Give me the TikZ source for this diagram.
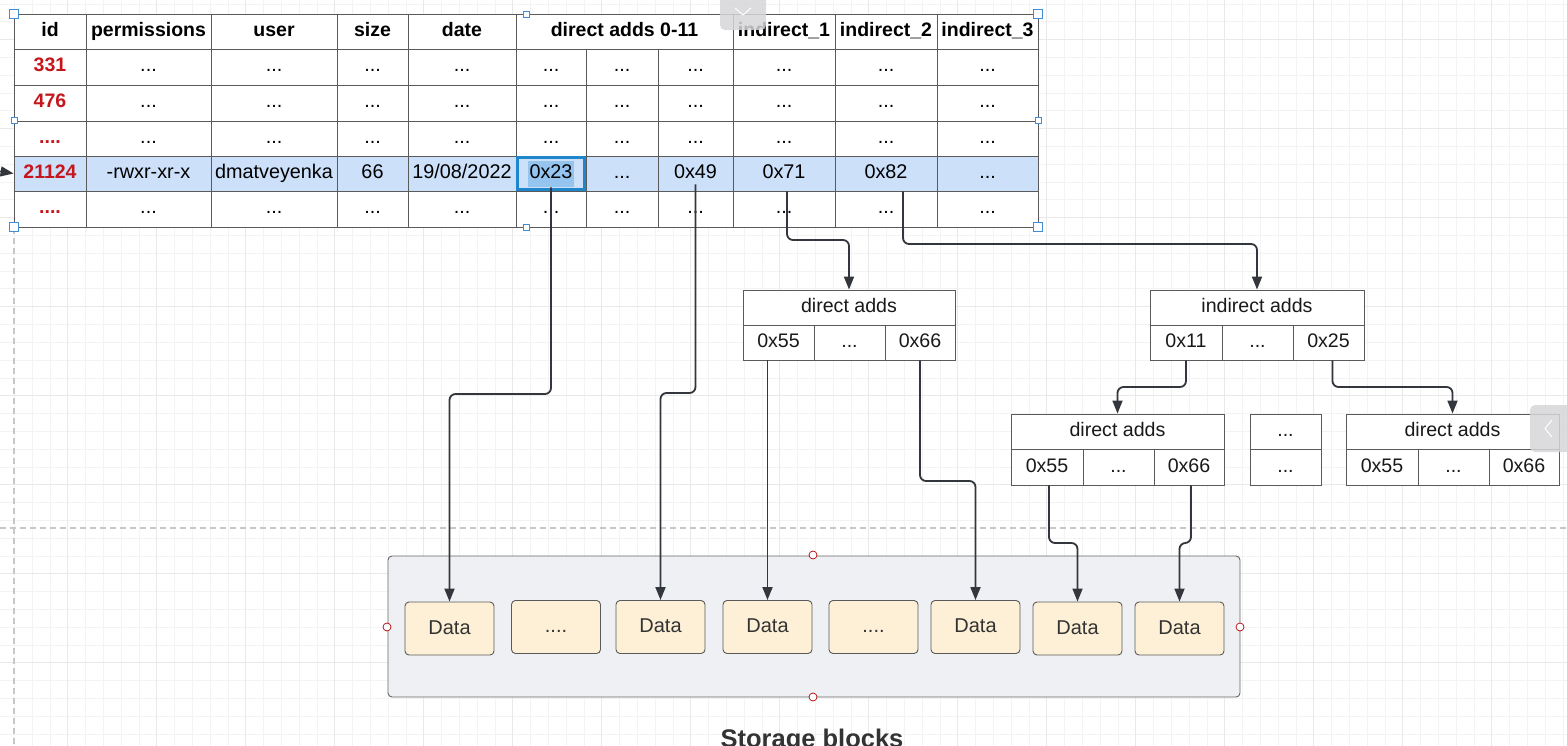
\documentclass[tikz,border=0pt]{standalone}
\usepackage{fontspec}
\setmainfont{Liberation Sans}
\usetikzlibrary{arrows.meta}
\definecolor{gridmin}{HTML}{F3F3F3}
\definecolor{gridmaj}{HTML}{E9E9E9}
\definecolor{cellline}{HTML}{5A5A5A}
\definecolor{rowblue}{HTML}{CCE0FA}
\definecolor{selblue}{HTML}{1F86CC}
\definecolor{txtsel}{HTML}{95C4EE}
\definecolor{idred}{HTML}{C4161C}
\definecolor{connc}{HTML}{33363D}
\definecolor{storfill}{HTML}{EFF0F3}
\definecolor{datafill}{HTML}{FDF0D6}
\definecolor{handleblue}{HTML}{3F8FD8}
\definecolor{tabgray}{HTML}{D6D6DA}
\newcommand{\tdots}{...}
\newcommand{\qdots}{....}
\newcommand{\tcell}[7]{%
  \node[tcellstyle,#6,minimum width={(#4-#2)*1pt},minimum height={(#5-#3)*1pt}] (#1) at ({(#2+#4)/2},{(#3+#5)/2}) {#7};}
\tikzset{
  tcellstyle/.style={draw=cellline,line width=0.9pt,inner sep=0pt,text height=13.5pt,text depth=3.5pt,font=\fontsize{19.8}{21}\selectfont,text=black},
  headcell/.style={font=\bfseries\fontsize{19.5}{21}\selectfont},
  idcell/.style={font=\bfseries\fontsize{19.5}{21}\selectfont,text=idred},
  bluerow/.style={fill=rowblue},
  whiterow/.style={fill=white},
  boxcell/.style={draw=cellline,line width=0.9pt,fill=white,inner sep=0pt,text height=13.5pt,text depth=3.5pt,font=\fontsize{19.6}{21}\selectfont,text=black!90},
  datastyle/.style={draw=cellline,line width=0.9pt,fill=datafill,rounded corners=4pt,inner sep=0pt,text height=14.5pt,text depth=3.5pt,font=\fontsize{20}{22}\selectfont,text=black!80,minimum width=89pt,minimum height=53pt},
  conn/.style={draw=connc,line width=1.8pt,rounded corners=6pt,-{Triangle[length=13pt,width=10pt]}},
  gmin/.style={draw=gridmin,line width=0.8pt},
  gmaj/.style={draw=gridmaj,line width=1.2pt},
  bighandle/.style={draw=handleblue,fill=white,line width=0.9pt,minimum size=9pt,inner sep=0pt},
  smallhandle/.style={draw=handleblue,fill=white,line width=0.7pt,minimum size=6pt,inner sep=0pt},
  redpt/.style={draw=red!70!black,fill=white,line width=0.7pt,circle,minimum size=8pt,inner sep=0pt},
}
\begin{document}
\begin{tikzpicture}[x=1pt,y=-1pt]
\useasboundingbox (0,0) rectangle (1567,746);
\fill[white] (0,0) rectangle (1567,746);
% grid
\foreach \i in {0,...,87} \draw[gmin] ({14.3+17.8*\i},0) -- ({14.3+17.8*\i},746);
\foreach \j in {0,...,41} \draw[gmin] (0,{4.1+17.8*\j}) -- (1567,{4.1+17.8*\j});
\foreach \i in {1,...,18} \draw[gmaj] ({-21.3+89*\i},0) -- ({-21.3+89*\i},746);
\foreach \j in {0,...,7} \draw[gmaj] (0,{39.7+89*\j}) -- (1567,{39.7+89*\j});
% page guides
\draw[draw=black!22,line width=1.2pt,dash pattern=on 6pt off 4pt] (0,528) -- (1567,528);
\draw[draw=black!22,line width=1.2pt,dash pattern=on 6pt off 4pt] (14,228) -- (14,746);

% ---------- table ----------
\foreach \xa/\xb/\t [count=\c] in {14/86/id,86/211/permissions,211/337/user,337/408/size,408/516/date,516/733/direct adds 0-11,733/835/indirect\_1,835/937/indirect\_2,937/1038/indirect\_3}
  {\tcell{t0-\c}{\xa}{14}{\xb}{49}{headcell,whiterow}{\t}}
\foreach \r/\ya/\yb/\idt in {1/49/85/331,2/85/121/476,3/121/156/\qdots,5/191/227/\qdots}{
  \tcell{t\r-1}{14}{\ya}{86}{\yb}{idcell,whiterow}{\idt}
  \foreach \xa/\xb [count=\c from 2] in {86/211,211/337,337/408,408/516,516/586,586/658,658/733,733/835,835/937,937/1038}
    {\tcell{t\r-\c}{\xa}{\ya}{\xb}{\yb}{whiterow}{\tdots}}
}
\tcell{t4-1}{14}{156}{86}{191}{idcell,bluerow}{21124}
\foreach \xa/\xb/\t [count=\c from 2] in {86/211/-rwxr-xr-x,211/337/dmatveyenka,337/408/66,408/516/19\slash 08\slash 2022,516/586/0x23,586/658/\tdots,658/733/0x49,733/835/0x71,835/937/0x82,937/1038/\tdots}
  {\tcell{t4-\c}{\xa}{156}{\xb}{191}{bluerow}{\t}}
% selected cell
\fill[txtsel] (528,161) rectangle (574,187);
\node[font=\fontsize{19.8}{21}\selectfont,inner sep=0pt,text height=13.5pt,text depth=3.5pt] at (t4-6) {0x23};
\draw[selblue,line width=2.2pt] (517.5,157.5) rectangle (584.5,189.5);
% incoming arrow
\coordinate (inl) at (-2,171);
\draw[draw=connc,line width=1.4pt,-{Triangle[length=13pt,width=10pt]}] (inl) -- (t4-1.west);

% ---------- index blocks ----------
\tcell{aH}{743}{290}{955}{325}{boxcell}{direct adds}
\tcell{aL}{743}{325}{814}{360}{boxcell}{0x55}
\tcell{aM}{814}{325}{885}{360}{boxcell}{...}
\tcell{aR}{885}{325}{955}{360}{boxcell}{0x66}

\tcell{bH}{1150}{290}{1364}{325}{boxcell}{indirect adds}
\tcell{bL}{1150}{325}{1222}{360}{boxcell}{0x11}
\tcell{bM}{1222}{325}{1293}{360}{boxcell}{...}
\tcell{bR}{1293}{325}{1364}{360}{boxcell}{0x25}

\tcell{cH}{1011}{414}{1224}{449}{boxcell}{direct adds}
\tcell{cL}{1011}{449}{1083}{485}{boxcell}{0x55}
\tcell{cM}{1083}{449}{1154}{485}{boxcell}{...}
\tcell{cR}{1154}{449}{1224}{485}{boxcell}{0x66}

\tcell{eH}{1250}{414}{1321}{449}{boxcell}{...}
\tcell{eL}{1250}{449}{1321}{485}{boxcell}{...}

\tcell{dH}{1346}{414}{1559}{449}{boxcell}{direct adds}
\tcell{dL}{1346}{449}{1418}{485}{boxcell}{0x55}
\tcell{dM}{1418}{449}{1489}{485}{boxcell}{...}
\tcell{dR}{1489}{449}{1559}{485}{boxcell}{0x66}

% ---------- storage ----------
\node[draw=black!60,line width=0.9pt,fill=storfill,rounded corners=4pt,minimum width=852pt,minimum height=141pt,inner sep=0pt] (stor) at (814,626.5) {};
\node[datastyle] (d1) at (449.5,628.5) {Data};
\node[datastyle] (d2) at (556,627) {....};
\node[datastyle] (d3) at (660.5,627) {Data};
\node[datastyle] (d4) at (767.5,627) {Data};
\node[datastyle] (d5) at (873.5,627) {....};
\node[datastyle] (d6) at (975.5,627) {Data};
\node[datastyle] (d7) at (1077.5,628.5) {Data};
\node[datastyle] (d8) at (1179.5,628.5) {Data};
\node[font=\bfseries\fontsize{25.5}{27}\selectfont,text=black!80,anchor=base,inner sep=0pt] (lbl) at (812,747) {Storage blocks};

% ---------- connectors ----------
\coordinate (s1) at ([yshift=4pt]t4-6.south);
\coordinate (s2) at ([yshift=7pt]t4-8.south);
\coordinate (s3) at ([xshift=3pt]t4-9.south);
\coordinate (s4) at ([xshift=17pt]t4-10.south);
\coordinate (s5) at ([xshift=4pt]bR.south);
\coordinate (s6) at ([xshift=2pt]cL.south);
\coordinate (s7) at ([xshift=2pt]cR.south);
\draw[conn] (s1) -- (s1 |- 0,394) -- (d1.north |- 0,394) -- (d1.north);
\draw[conn] (s2) -- (s2 |- 0,393) -- (d3.north |- 0,393) -- (d3.north);
\draw[conn] (s3) -- (s3 |- 0,240) -- (aH.north |- 0,240) -- (aH.north);
\draw[conn] (s4) -- (s4 |- 0,244) -- (bH.north |- 0,244) -- (bH.north);
\draw[conn] (d4.north |- aL.south) -- (d4.north);
\draw[conn] (aR.south) -- (aR.south |- 0,481) -- (d6.north |- 0,481) -- (d6.north);
\draw[conn] (bL.south) -- (bL.south |- 0,387) -- (cH.north |- 0,387) -- (cH.north);
\draw[conn] (s5) -- (s5 |- 0,387) -- (dH.north |- 0,387) -- (dH.north);
\draw[conn] (s6) -- (s6 |- 0,543) -- (d7.north |- 0,543) -- (d7.north);
\draw[conn] (s7) -- (s7 |- 0,543) -- (d8.north |- 0,543) -- (d8.north);

% ---------- editor marks ----------
\foreach \p in {(14,14),(1038,14),(14,227),(1038,227)} \node[bighandle] at \p {};
\foreach \p in {(526,14),(526,227),(14,120),(1038,120)} \node[smallhandle] at \p {};
\foreach \p in {(813,555),(813,697),(387,627),(1240,627)} \node[redpt] at \p {};
\fill[tabgray,opacity=0.85,rounded corners=5pt] (720,-6) rectangle (766,30);
\draw[white,line width=1pt] (735,8) -- (743,15) -- (751,8);
\fill[tabgray,opacity=0.85,rounded corners=5pt] (1530,405) rectangle (1575,452);
\draw[white,line width=1pt] (1552,420) -- (1545,428.5) -- (1552,437);
\end{tikzpicture}
\end{document}
